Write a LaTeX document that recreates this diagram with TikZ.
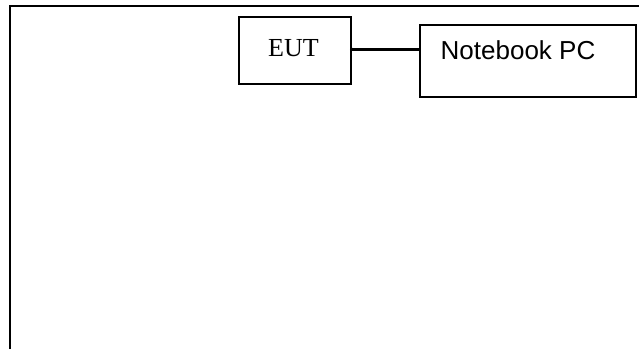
\documentclass[tikz,border=0pt]{standalone}
\usepackage{fontspec}
\setmainfont{Liberation Serif}
\newfontfamily\arialfont{Liberation Sans}
\begin{document}
\begin{tikzpicture}[x=1pt,y=1pt,
  box/.style={draw=black,line width=1.5pt,rectangle,inner sep=0pt},
  frameline/.style={draw=black,line width=1.8pt},
  link/.style={draw=black,line width=2.6pt},
  serif/.style={font=\fontsize{26}{30}\selectfont},
  sans/.style={font=\arialfont\fontsize{26}{30}\selectfont}]
\useasboundingbox (0,0) rectangle (639,-349);
% outer frame (top and left only)
\coordinate (ftl) at (10,-6);
\coordinate (ftr) at (639,-6);
\coordinate (fbl) at (10,-349);
\draw[frameline] (fbl) -- (ftl) -- (ftr);
% EUT box
\node[box,minimum width=112pt,minimum height=67pt] (eut) at (295,-50.5) {};
\node[serif,inner sep=0pt] (eutlabel) at (293.5,-48) {EUT};
% Notebook PC box
\node[box,minimum width=216pt,minimum height=72pt] (nb) at (528,-61) {};
\node[sans,inner sep=0pt,anchor=west] (nblabel) at (440.5,-50.7) {Notebook PC};
% connector
\coordinate (c1) at (eut.east |- 0,-49.3);
\coordinate (c2) at (nb.west |- 0,-49.3);
\draw[link] (c1) -- (c2);
\fill (c1) circle (1.8pt);
\end{tikzpicture}
\end{document}
